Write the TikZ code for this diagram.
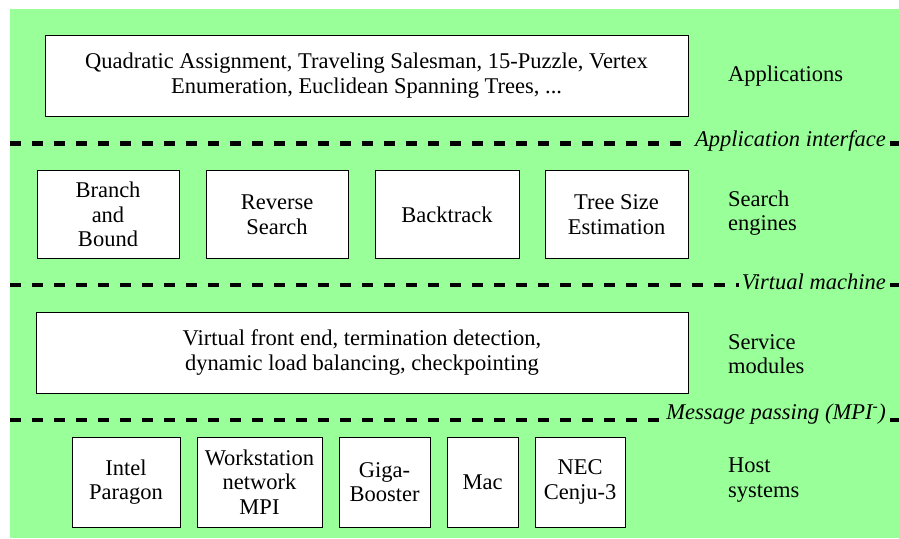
\documentclass[tikz,border=0pt]{standalone}
\usepackage{fontspec}
\setmainfont{Liberation Serif}
\definecolor{bggreen}{HTML}{99FF99}

\begin{document}
\begin{tikzpicture}[x=1pt,y=-1pt,
  box/.style={draw,fill=white,line width=0.8pt,align=center,inner sep=0pt},
  side/.style={anchor=west,align=left,inner sep=0pt},
  layer/.style={line width=4.5pt,dash pattern=on 11pt off 11pt},
  iface/.style={anchor=east,fill=bggreen,inner xsep=3pt,inner ysep=1pt,font=\itshape}]
\fontsize{22.5}{24.5}\selectfont
\useasboundingbox (0,0) rectangle (899,538);
\fill[bggreen] (10,9) rectangle (899,538);

% applications
\node[box,minimum width=643pt,minimum height=81pt] (apps) at (366.5,75.5)
  {Quadratic Assignment, Traveling Salesman, 15-Puzzle, Vertex\\Enumeration, Euclidean Spanning Trees, ...};
\node[side] (appsl) at (728,76) {Applications};

\coordinate (l1a) at (10,143.5);
\coordinate (l1b) at (899,143.5);
\draw[layer] (l1a) -- (l1b);
\node[iface] (ai) at (889,141) {Application interface};

% search engines
\node[box,minimum width=142pt,minimum height=88pt] (bb) at (108,214.5) {Branch\\and\\Bound};
\node[box,minimum width=142pt,minimum height=88pt] (rs) at (277,214.5) {Reverse\\Search};
\node[box,minimum width=144pt,minimum height=88pt] (bt) at (447,214.5) {Backtrack};
\node[box,minimum width=143pt,minimum height=88pt] (ts) at (616.5,214.5) {Tree Size\\Estimation};
\node[side] (sel) at (728,213) {Search\\engines};

\coordinate (l2a) at (10,285);
\coordinate (l2b) at (899,285);
\draw[layer] (l2a) -- (l2b);
\node[iface] (vm) at (889,282) {Virtual machine};

% service modules
\node[box,minimum width=652pt,minimum height=81pt] (svc) at (362,352.5)
  {Virtual front end, termination detection,\\dynamic load balancing, checkpointing};
\node[side] (svcl) at (728,354) {Service\\modules};

\coordinate (l3a) at (10,420);
\coordinate (l3b) at (899,420);
\draw[layer] (l3a) -- (l3b);
\node[iface] (mp) at (889,414) {Message passing (MPI\textsuperscript{-})};

% host systems
\node[box,minimum width=108pt,minimum height=90pt] (ip) at (126,482) {Intel\\Paragon};
\node[box,minimum width=125pt,minimum height=90pt] (ws) at (259.5,482) {Workstation\\network\\MPI};
\node[box,minimum width=91pt,minimum height=90pt] (gb) at (384.5,482) {Giga-\\Booster};
\node[box,minimum width=71pt,minimum height=90pt] (mac) at (482.5,482) {Mac};
\node[box,minimum width=90pt,minimum height=90pt] (nec) at (580,482) {NEC\\Cenju-3};
\node[side] (hsl) at (728,480) {Host\\systems};
\end{tikzpicture}
\end{document}
